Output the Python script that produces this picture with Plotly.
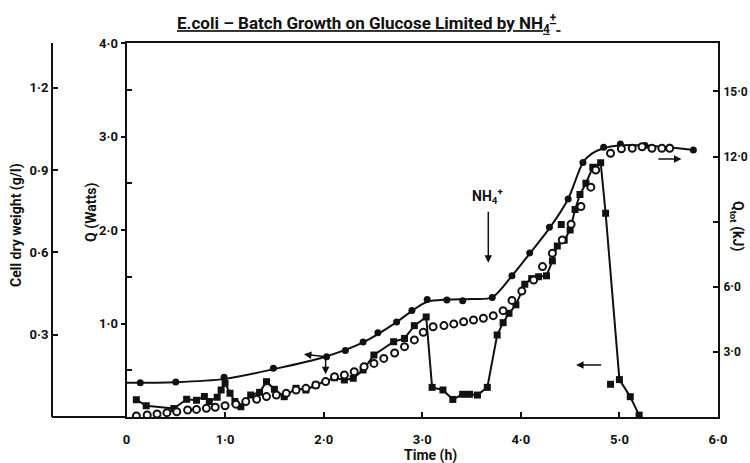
import plotly.graph_objects as go

# ---------------- data ----------------
# Cell dry weight (g/l) - filled circles
cdw_t = [0.14, 0.50, 0.99, 1.49, 2.03, 2.22, 2.40, 2.55, 2.74, 2.895, 3.05, 3.25,
         3.41, 3.71, 3.91, 4.09, 4.29, 4.48, 4.63, 4.84, 5.01, 5.26, 5.51, 5.75]
cdw_v = [0.125, 0.128, 0.145, 0.178, 0.22, 0.242, 0.273, 0.307, 0.346, 0.388, 0.428, 0.427,
         0.424, 0.436, 0.515, 0.598, 0.692, 0.795, 0.928, 0.983, 0.995, 0.99, 0.983, 0.973]
# hand-drawn smooth curve through the cell dry weight points
cdw_fit_t = [0, 0.5, 1.0, 1.5, 2.0, 2.4, 2.74, 2.9, 3.05, 3.25, 3.5, 3.71, 3.9, 4.1,
             4.3, 4.48, 4.63, 4.72, 4.84, 5.0, 5.26, 5.5, 5.75]
cdw_fit_v = [0.125, 0.127, 0.139, 0.175, 0.218, 0.272, 0.346, 0.388, 0.42, 0.428, 0.43,
             0.436, 0.51, 0.6, 0.693, 0.795, 0.928, 0.96, 0.98, 0.99, 0.99, 0.983, 0.973]

# Heat flow Q (Watts) - filled squares joined by straight lines
q_t = [0.10, 0.20, 0.48, 0.61, 0.71, 0.79, 0.84, 0.92, 0.96, 1.00, 1.05, 1.10, 1.16,
       1.26, 1.35, 1.42, 1.50, 1.60, 1.72, 1.82, 1.92, 2.11, 2.21, 2.30, 2.40, 2.51,
       2.71, 2.82, 2.92, 3.04, 3.10, 3.21, 3.31, 3.41, 3.48, 3.56, 3.66, 3.76, 3.82,
       3.88, 3.95, 4.04, 4.11, 4.18, 4.26, 4.32, 4.37, 4.44, 4.50, 4.55, 4.60, 4.66,
       4.73, 4.81, 4.86, 5.00, 5.11, 5.20]
q_v = [0.185, 0.12, 0.09, 0.19, 0.18, 0.22, 0.165, 0.21, 0.29, 0.36, 0.255, 0.165, 0.11,
       0.235, 0.264, 0.378, 0.296, 0.217, 0.307, 0.289, 0.342, 0.42, 0.396, 0.414, 0.503,
       0.663, 0.805, 0.84, 0.977, 1.07, 0.317, 0.289, 0.188, 0.243, 0.243, 0.235, 0.317,
       0.877, 1.009, 1.109, 1.20, 1.42, 1.48, 1.50, 1.51, 1.67, 1.83, 1.89, 2.00, 2.22,
       2.38, 2.50, 2.67, 2.72, 2.18, 0.40, 0.217, 0.02]
# stray Q points not on the joined line
q_extra_t = [4.41, 4.91]
q_extra_v = [2.06, 0.35]

# Total heat Qtot (kJ) - open circles
qtot_t = [0.10, 0.21, 0.31, 0.41, 0.51, 0.62, 0.71, 0.81, 0.90, 1.00, 1.11, 1.21, 1.32,
          1.42, 1.52, 1.62, 1.72, 1.82, 1.92, 2.02, 2.11, 2.21, 2.31, 2.41, 2.51, 2.61,
          2.72, 2.82, 2.92, 3.01, 3.11, 3.22, 3.32, 3.42, 3.52, 3.62, 3.72, 3.82, 3.91,
          4.01, 4.13, 4.22, 4.32, 4.42, 4.51, 4.61, 4.71, 4.76, 4.91, 5.02, 5.13, 5.23,
          5.33, 5.43, 5.51]
qtot_v = [0.05, 0.09, 0.14, 0.20, 0.24, 0.32, 0.35, 0.40, 0.45, 0.52, 0.59, 0.71, 0.82,
          0.94, 1.01, 1.09, 1.24, 1.32, 1.47, 1.63, 1.86, 1.94, 2.09, 2.32, 2.47, 2.70,
          2.95, 3.24, 3.55, 3.90, 4.16, 4.21, 4.29, 4.39, 4.47, 4.55, 4.67, 4.90, 5.37,
          5.80, 6.31, 6.93, 7.54, 8.16, 8.88, 9.70, 10.59, 11.38, 12.15, 12.36, 12.38,
          12.45, 12.38, 12.38, 12.38]

# tick labels
x_ticks = [0, 1, 2, 3, 4, 5, 6]
x_labels = ["0", "1·0", "2·0", "3·0", "4·0", "5·0", "6·0"]
q_ticks = [1, 2, 3, 4]
q_labels = ["1·0", "2·0", "3·0", "4·0"]
cdw_ticks = [0.3, 0.6, 0.9, 1.2]
cdw_labels = ["0·3", "0·6", "0·9", "1·2"]
qtot_ticks = [3, 6, 9, 12, 15]
qtot_labels = ["3·0", "6·0", "", "12·0", "15·0"]

# ---------------- figure ----------------
FONT = "Roboto, DejaVu Sans, sans-serif"
BLACK = "#111111"

fig = go.Figure()

fig.add_trace(go.Scatter(x=cdw_fit_t, y=cdw_fit_v, yaxis="y2", mode="lines",
                         line=dict(color=BLACK, width=2, shape="spline", smoothing=0.8),
                         hoverinfo="skip", showlegend=False))
fig.add_trace(go.Scatter(x=cdw_t, y=cdw_v, yaxis="y2", mode="markers",
                         marker=dict(symbol="circle", size=7, color=BLACK),
                         showlegend=False))
fig.add_trace(go.Scatter(x=q_t, y=q_v, mode="lines+markers",
                         line=dict(color=BLACK, width=2),
                         marker=dict(symbol="square", size=7, color=BLACK),
                         showlegend=False))
fig.add_trace(go.Scatter(x=q_extra_t, y=q_extra_v, mode="markers",
                         marker=dict(symbol="square", size=7, color=BLACK),
                         showlegend=False))
fig.add_trace(go.Scatter(x=qtot_t, y=qtot_v, yaxis="y3", mode="markers",
                         marker=dict(symbol="circle", size=7, color="white",
                                     line=dict(color=BLACK, width=2)),
                         showlegend=False))

tickfont = dict(family=FONT, size=13, color=BLACK, weight="bold")
L, R, T, B = 52, 32, 43, 46
W, H = 750, 463
pw, ph = W - L - R, H - T - B
xdom0 = (126.5 - L) / pw

def px_x(p):
    return (p - L) / pw

def px_y(p):
    return (H - B - p) / ph

fig.update_layout(
    width=W, height=H,
    margin=dict(l=L, r=R, t=T, b=B, autoexpand=False),
    paper_bgcolor="white", plot_bgcolor="white",
    font=dict(family=FONT, color=BLACK, weight="bold"),
    xaxis=dict(domain=[xdom0, 1], range=[0, 6], tickvals=x_ticks, ticktext=x_labels,
               ticks="inside", ticklen=5, tickwidth=1.5, tickcolor=BLACK,
               ticklabelstandoff=9, automargin=False,
               showline=True, linecolor=BLACK, linewidth=2, mirror=True,
               showgrid=False, zeroline=False, tickfont=tickfont),
    yaxis=dict(range=[0, 4], tickvals=q_ticks, ticktext=q_labels,
               ticks="outside", ticklen=4, tickwidth=1.5, tickcolor=BLACK,
               automargin=False,
               minor=dict(tickvals=[0.5, 1.5, 2.5, 3.5], ticks="inside", ticklen=5,
                          tickwidth=1.5, tickcolor=BLACK, showgrid=False),
               showline=True, linecolor=BLACK, linewidth=2,
               showgrid=False, zeroline=False, tickfont=tickfont),
    yaxis2=dict(range=[0, 1.3635], overlaying="y", anchor="free", position=0, side="left",
                tickvals=cdw_ticks, ticktext=cdw_labels, automargin=False,
                ticks="inside", ticklen=5, tickwidth=1.5, tickcolor=BLACK,
                showline=True, linecolor=BLACK, linewidth=2,
                showgrid=False, zeroline=False, tickfont=tickfont),
    yaxis3=dict(range=[0, 17.23], overlaying="y", anchor="x", side="right",
                tickvals=qtot_ticks, ticktext=qtot_labels, automargin=False,
                ticks="inside", ticklen=5, tickwidth=1.5, tickcolor=BLACK,
                ticklabelstandoff=1,
                showline=True, linecolor=BLACK, linewidth=2,
                showgrid=False, zeroline=False,
                tickfont=dict(family=FONT, size=12, color=BLACK, weight="bold")),
)

# extend the baseline to the cell-dry-weight axis
fig.add_shape(type="line", xref="paper", yref="paper", x0=0, x1=xdom0, y0=0, y1=0,
              line=dict(color=BLACK, width=2))

tfont = dict(family=FONT, size=14, color=BLACK, weight="bold")
common = dict(showarrow=False, xanchor="center", yanchor="middle")
ann = [
    dict(text="<u>E.coli – Batch Growth on Glucose Limited by NH<sub>4</sub><sup>+</sup> </u>",
         x=px_x(369), y=px_y(23), xref="paper", yref="paper",
         font=dict(family=FONT, size=17, color=BLACK, weight="bold"), **common),
    dict(text="Cell dry weight (g/l)", x=px_x(17), y=px_y(225), xref="paper", yref="paper",
         textangle=-90, font=tfont, **common),
    dict(text="Q (Watts)", x=px_x(91), y=px_y(213), xref="paper", yref="paper",
         textangle=-90, font=tfont, **common),
    dict(text="Q<sub>tot</sub> (kJ)", x=px_x(737), y=px_y(226), xref="paper", yref="paper",
         textangle=90, font=tfont, **common),
    dict(text="Time (h)", x=px_x(430), y=px_y(455), xref="paper", yref="paper",
         font=tfont, **common),
    dict(text="NH<sub>4</sub><sup>+</sup>", x=3.66, y=2.36, xref="x", yref="y",
         font=tfont, **common),
]
arrows = [
    # (head_x, head_y, tail_x, tail_y) in time / Watts units
    (3.67, 1.65, 3.67, 2.21),
    (5.63, 2.76, 5.38, 2.76),
    (4.56, 0.556, 4.83, 0.556),
    (1.80, 0.67, 2.02, 0.645),
    (2.02, 0.457, 2.02, 0.645),
]
for hx, hy, tx, ty in arrows:
    ann.append(dict(x=hx, y=hy, ax=tx, ay=ty, xref="x", yref="y", axref="x", ayref="y",
                    text="", showarrow=True, arrowhead=2, arrowsize=1, arrowwidth=1.5,
                    arrowcolor=BLACK))
fig.update_layout(annotations=ann)

fig.write_html("out.html")
